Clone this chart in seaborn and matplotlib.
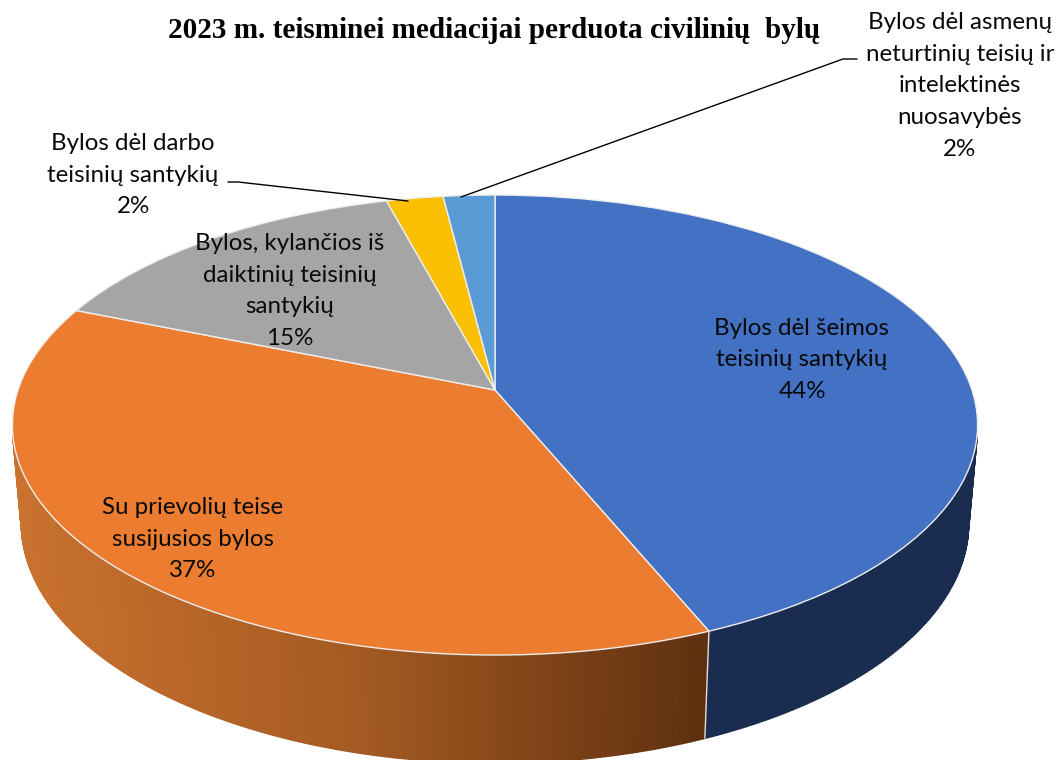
import numpy as np
import seaborn as sns
import matplotlib.pyplot as plt
from matplotlib.collections import PolyCollection
from matplotlib.transforms import Transform

title = "2023 m. teisminei mediacijai perduota civilinių  bylų"
categories = [
    "Bylos dėl šeimos\nteisinių santykių",
    "Su prievolių teise\nsusijusios bylos",
    "Bylos, kylančios iš\ndaiktinių teisinių\nsantykių",
    "Bylos dėl darbo\nteisinių santykių",
    "Bylos dėl asmenų\nneturtinių teisių ir\nintelektinės\nnuosavybės",
]
values = [43.7, 37.4, 14.7, 2.2, 2.0]
colors = ["#4371c3", "#eb7c30", "#a5a5a5", "#fbbf04", "#5b9bd5"]
label_pos = [(802, 360), (193, 539), (290, 291), (133, 175), (960, 86)]


# tilted disc: unit circle -> pixels, far side shrinks like in the 3d pie
class TiltProjection(Transform):
    input_dims = 2
    output_dims = 2
    is_affine = False

    def __init__(self, cx, cy, a, b, k):
        super().__init__()
        self.cx, self.cy, self.a, self.b, self.k = cx, cy, a, b, k

    def transform_non_affine(self, values):
        x, y = values[:, 0], values[:, 1]
        d = 1 + self.k * y
        return np.column_stack([self.cx + self.a * x / d,
                                self.cy - (self.b * y + self.b * self.k) / d])


sns.set_theme(style="white")
plt.rcParams["font.family"] = ["Lato", "DejaVu Sans"]

fig = plt.figure(figsize=(10.57, 7.6), dpi=100)
ax = fig.add_axes([0, 0, 1, 1])

top = TiltProjection(495, 425, 477, 230, 0.152)
bottom = TiltProjection(495, 523, 468, 240, 0.152)

wedges, _ = ax.pie(values, colors=colors, startangle=90, counterclock=False,
                   wedgeprops=dict(edgecolor="#eeeeee", linewidth=1.0))
ax.set(xlim=(0, 1057), ylim=(760, 0), aspect="auto")
ax.set_axis_off()
for w in wedges:
    w.set_transform(top + ax.transData)

# side wall, only the front part of the two front slices can be seen
shade = sns.blend_palette(["#ca722f", "#a45a22", "#5e300f"], n_colors=256)
for i, w in enumerate(wedges[:2]):
    ang = np.radians(np.arange(w.theta1, w.theta2 + 0.5, 0.5))
    ang[-1] = np.radians(w.theta2)
    ang = ang[np.sin(ang) < -0.2]
    unit = np.column_stack([np.cos(ang), np.sin(ang)])
    t, b = top.transform(unit), bottom.transform(unit)
    quads, fc = [], []
    for j in range(len(ang) - 1):
        quads.append([t[j], t[j + 1], b[j + 1], b[j]])
        if i == 0:
            fc.append("#1a2c4f")
        else:
            xm = (t[j][0] + t[j + 1][0]) / 2
            fc.append(shade[int(np.clip((xm - 15) / 695, 0, 1) * 255)])
    ax.add_collection(PolyCollection(quads, facecolors=fc, edgecolors=fc,
                                     linewidths=1.3, zorder=0))
    if i == 0:
        ax.plot([t[0][0], b[0][0]], [t[0][1], b[0][1]], color="#dddddd",
                lw=1.0, zorder=0.5)

for name, v, (x, y) in zip(categories, values, label_pos):
    ax.text(x, y, f"{name}\n{v:.0f}%", ha="center", va="center", fontsize=17.4,
            color="#0a0a0a", linespacing=1.64, zorder=3)

ax.plot([228, 238, 408], [182, 182, 201], color="black", lw=1.0, zorder=2)
ax.plot([857, 843, 461], [59, 59, 197], color="black", lw=1.0, zorder=2)

ax.text(494, 31, title, ha="center", va="center", fontsize=21.1, weight="bold",
        family="Liberation Serif", color="black")

fig.savefig("out.png", dpi=100)
